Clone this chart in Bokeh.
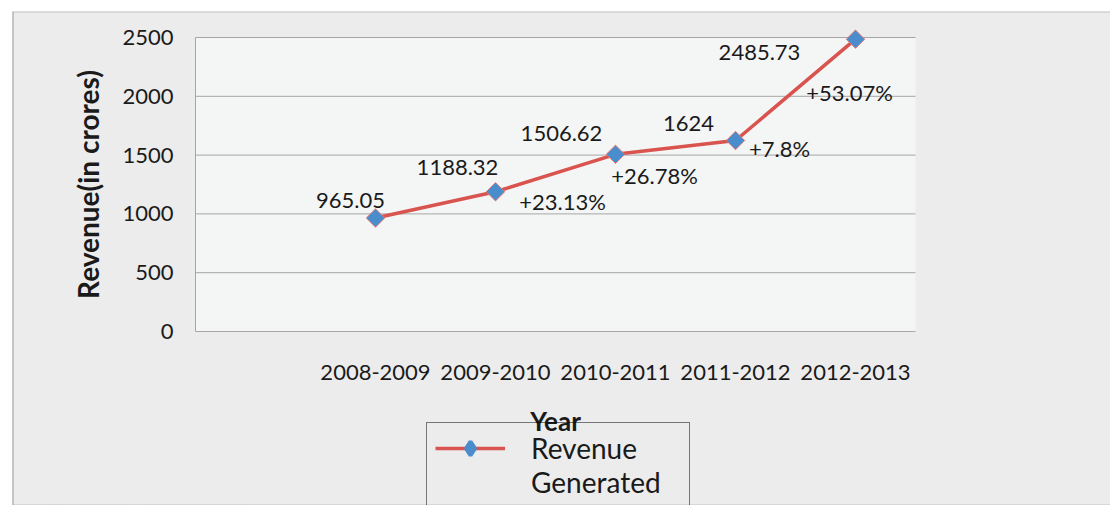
import math
from bokeh.plotting import figure
from bokeh.models import ColumnDataSource, Range1d, Legend, LegendItem
from bokeh.core.properties import value
from bokeh.embed import file_html
from bokeh.resources import INLINE

# ---- data ----
years = ["2008-2009", "2009-2010", "2010-2011", "2011-2012", "2012-2013"]
revenue = [965.05, 1188.32, 1506.62, 1624, 2485.73]
growth = [23.13, 26.78, 7.8, 53.07]          # % growth vs previous year
y_ticks = [0, 500, 1000, 1500, 2000, 2500]
x_title = "Year"
y_title = "Revenue(in crores)"
series_name = ["Revenue", "Generated"]

FONT = "Lato"
TXT = "#1a1a1a"
GRID = "#a6a6a6"
LINE = "#d9534f"
MARK = "#4a8dcc"

# ---- geometry (pixels inside the figure canvas) ----
CW, CH = 1098, 494
PL, PR, PT, PB = 183, 903, 26, 320        # plot-area edges
n_slots = len(years) + 1                   # first category slot is empty
xpos = [i + 1 for i in range(len(years))]
x_lo, x_hi = -0.5, n_slots - 0.5
y_lo, y_hi = y_ticks[0], y_ticks[-1]
ppx = (PR - PL) / (x_hi - x_lo)
ppy = (PB - PT) / (y_hi - y_lo)
x_range = Range1d(x_lo - PL / ppx, x_hi + (CW - PR) / ppx)
y_range = Range1d(y_lo - (CH - PB) / ppy, y_hi + PT / ppy)

# label placement (pixels)
val_dx = [-25, -38, -54, -47, -96]
val_dy = [-18, -24, -21, -17, 13]
g_dx = [67, 39, 44, -6]
g_dy = [10, 21, 8, 53]

src = ColumnDataSource(dict(x=xpos, y=revenue, lab=[f"{v:g}" for v in revenue],
                            dx=val_dx, dy=val_dy))
gsrc = ColumnDataSource(dict(x=xpos[1:], y=revenue[1:], lab=[f"+{g:g}%" for g in growth],
                             dx=g_dx, dy=g_dy))

p = figure(width=CW, height=CH, output_backend="svg", toolbar_location=None,
           x_range=x_range, y_range=y_range,
           min_border=0, min_border_left=0, min_border_right=0,
           min_border_top=0, min_border_bottom=0)
p.margin = (11, 0, 0, 12)
p.axis.visible = False
p.grid.visible = False
p.background_fill_color = "#ececec"
p.border_fill_color = "#ececec"
p.outline_line_color = None

# plot area
p.quad(left=x_lo, right=x_hi, bottom=y_lo, top=y_hi, fill_color="#f4f5f5",
       line_color=None, level="image")
p.segment(x0=[x_lo] * len(y_ticks), x1=[x_hi] * len(y_ticks), y0=y_ticks, y1=y_ticks,
          line_color=GRID, line_width=1, level="underlay")
p.segment(x0=[x_lo], x1=[x_lo], y0=[y_lo], y1=[y_hi], line_color=GRID, line_width=1,
          level="underlay")

# outer chart box edges
p.segment(x0=[x_range.start], x1=[x_range.start], y0=[y_range.start], y1=[y_range.end],
          line_color="#9a9a9a", line_width=2)
p.segment(x0=[x_range.start] * 2, x1=[x_range.end] * 2, y0=[y_range.start, y_range.end],
          y1=[y_range.start, y_range.end], line_color="#9a9a9a", line_width=2,
          line_dash="1 1")

# tick labels
p.text(x=[x_lo] * len(y_ticks), y=y_ticks, text=[str(t) for t in y_ticks], x_offset=-22,
       text_align="right", text_baseline="middle", text_font=value(FONT),
       text_font_size="22px", text_color=TXT)
p.text(x=xpos, y=[y_lo] * len(xpos), text=years, y_offset=41,
       text_align="center", text_baseline="middle", text_font=value(FONT),
       text_font_size="22px", text_color=TXT)
# axis titles
p.text(x=[(x_lo + x_hi) / 2], y=[y_lo], text=[x_title], y_offset=89,
       text_align="center", text_baseline="middle", text_font=value(FONT),
       text_font_size="26px", text_font_style="bold", text_color=TXT)
p.text(x=[x_lo], y=[(y_lo + y_hi) / 2], text=[y_title], x_offset=-108, angle=math.pi / 2,
       text_align="center", text_baseline="middle", text_font=value(FONT),
       text_font_size="28px", text_font_style="bold", text_color=TXT)

# series
ln = p.line("x", "y", source=src, line_color=LINE, line_width=3.5)
mk = p.scatter("x", "y", source=src, marker="square", angle=math.pi / 4, size=13,
               fill_color=MARK, line_color="#e07a78", line_width=1)
# legend swatch marker (diamond); drawn at zero size on the chart itself
leg_mk = p.scatter("x", "y", source=src, marker="diamond", size=0,
                   fill_color=MARK, line_color=MARK, line_width=4)
blank = p.scatter(x=[], y=[], alpha=0)

# value labels (above-left of points)
p.text("x", "y", text="lab", source=src, x_offset="dx", y_offset="dy",
       text_align="center", text_baseline="middle", text_font=value(FONT),
       text_font_size="22px", text_color=TXT)
# growth labels (below-right of points)
p.text("x", "y", text="lab", source=gsrc, x_offset="dx", y_offset="dy",
       text_align="center", text_baseline="middle", text_font=value(FONT),
       text_font_size="22px", text_color=TXT)

legend = Legend(items=[LegendItem(label=series_name[0], renderers=[ln, leg_mk]),
                       LegendItem(label=series_name[1], renderers=[blank])],
                location=(414, -3), padding=8, spacing=0, glyph_width=70, glyph_height=34,
                label_standoff=26, label_width=150, label_height=34,
                label_text_font=FONT, label_text_font_size="28px", label_text_color=TXT,
                border_line_color="#000000", border_line_width=1,
                background_fill_alpha=0, margin=0)
p.add_layout(legend, "center")

open("out.html", "w").write(file_html(p, INLINE))
